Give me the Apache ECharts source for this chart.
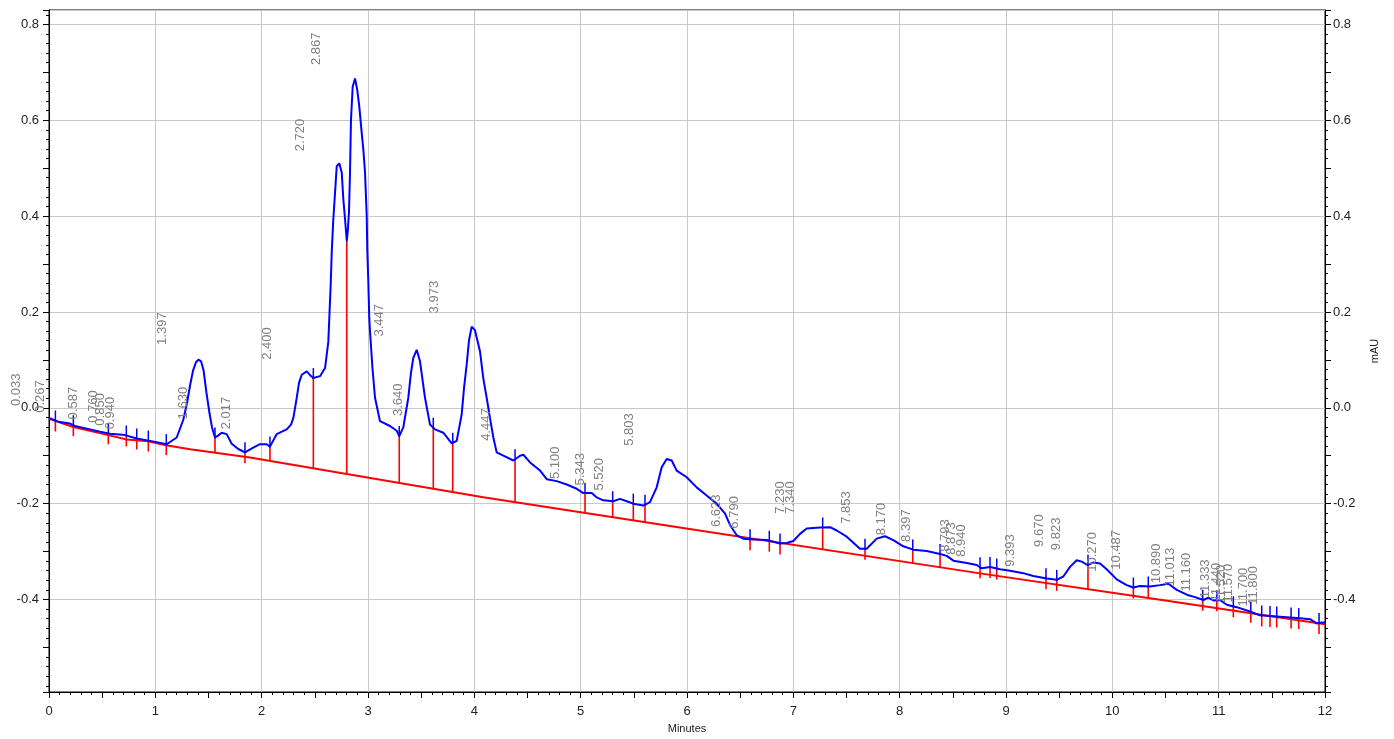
<!DOCTYPE html>
<html><head><meta charset="utf-8">
<script src="https://cdn.jsdelivr.net/npm/echarts@6/dist/echarts.min.js"></script>
<style>html,body{margin:0;padding:0;background:#fff}#c{width:1394px;height:739px}</style>
</head><body><div id="c"></div>
<script>
// ---- data ----
const traceTime = [0.000,0.087,0.197,0.245,0.386,0.480,0.574,0.715,0.825,0.950,
1.107,1.201,1.263,1.298,1.326,1.354,1.382,1.406,1.430,1.453,
1.481,1.510,1.533,1.561,1.589,1.624,1.671,1.718,1.780,1.843,
1.921,1.984,2.047,2.078,2.141,2.235,2.276,2.298,2.330,2.351,
2.377,2.424,2.455,2.486,2.549,2.596,2.627,2.636,2.649,2.659,
2.674,2.690,2.706,2.730,2.753,2.768,2.784,2.800,2.809,2.821,
2.831,2.840,2.856,2.878,2.899,2.918,2.941,2.956,2.972,2.988,
2.993,3.003,3.012,3.019,3.042,3.066,3.113,3.207,3.270,3.294,
3.332,3.379,3.404,3.426,3.458,3.489,3.513,3.536,3.583,3.630,
3.708,3.787,3.834,3.881,3.903,3.928,3.950,3.975,4.006,4.053,
4.084,4.116,4.147,4.179,4.210,4.273,4.367,4.430,4.461,4.524,
4.618,4.681,4.775,4.869,4.963,5.025,5.104,5.151,5.213,5.307,
5.370,5.433,5.495,5.589,5.652,5.715,5.762,5.809,5.856,5.903,
5.997,6.091,6.185,6.279,6.358,6.405,6.468,6.530,6.624,6.750,
6.875,6.938,7.000,7.063,7.126,7.251,7.345,7.408,7.502,7.627,
7.690,7.784,7.862,7.940,8.034,8.128,8.254,8.380,8.443,8.505,
8.631,8.725,8.772,8.850,8.944,9.038,9.163,9.257,9.383,9.477,
9.539,9.602,9.665,9.712,9.765,9.821,9.884,9.947,10.041,10.135,
10.198,10.260,10.354,10.448,10.527,10.606,10.700,10.778,10.856,10.903,
10.950,11.013,11.076,11.170,11.295,11.389,11.514,11.640,11.765,11.859,
11.922,11.969,12.000];
const traceSignal = [-0.021,-0.029,-0.033,-0.038,-0.045,-0.050,-0.054,-0.057,-0.064,-0.069,
-0.076,-0.062,-0.025,0.010,0.046,0.077,0.095,0.1005,0.097,0.079,
0.031,-0.012,-0.041,-0.062,-0.058,-0.052,-0.055,-0.075,-0.086,-0.093,
-0.083,-0.076,-0.076,-0.081,-0.055,-0.045,-0.035,-0.021,0.021,0.052,
0.069,0.076,0.068,0.062,0.066,0.083,0.138,0.187,0.256,0.325,
0.394,0.449,0.504,0.510,0.491,0.435,0.394,0.349,0.366,0.408,
0.491,0.601,0.670,0.687,0.663,0.629,0.573,0.539,0.491,0.401,
0.332,0.263,0.187,0.159,0.083,0.021,-0.028,-0.038,-0.048,-0.059,
-0.041,0.021,0.073,0.104,0.121,0.097,0.058,0.021,-0.035,-0.045,
-0.052,-0.074,-0.069,-0.014,0.041,0.090,0.141,0.169,0.162,0.118,
0.062,0.021,-0.021,-0.062,-0.093,-0.100,-0.110,-0.100,-0.098,-0.114,
-0.131,-0.149,-0.153,-0.160,-0.169,-0.178,-0.178,-0.187,-0.193,-0.195,
-0.190,-0.195,-0.200,-0.204,-0.197,-0.166,-0.124,-0.107,-0.110,-0.131,
-0.145,-0.166,-0.183,-0.200,-0.221,-0.245,-0.266,-0.273,-0.275,-0.276,
-0.283,-0.282,-0.278,-0.263,-0.252,-0.250,-0.249,-0.256,-0.269,-0.294,
-0.294,-0.273,-0.268,-0.276,-0.289,-0.296,-0.299,-0.305,-0.309,-0.319,
-0.324,-0.328,-0.335,-0.332,-0.337,-0.340,-0.345,-0.351,-0.356,-0.359,
-0.352,-0.332,-0.318,-0.321,-0.328,-0.323,-0.325,-0.337,-0.358,-0.370,
-0.375,-0.372,-0.373,-0.370,-0.367,-0.380,-0.390,-0.395,-0.401,-0.396,
-0.402,-0.401,-0.411,-0.416,-0.425,-0.433,-0.435,-0.437,-0.439,-0.441,
-0.450,-0.448,-0.448];

const baseTime   = [0, 0.229, 0.558, 0.731, 0.934, 1.10, 1.326, 1.89, 4.084, 5.84, 8.756, 10.355, 12];
const baseSignal = [-0.023, -0.040, -0.057, -0.066, -0.070, -0.078, -0.0865, -0.1036, -0.1865, -0.2466, -0.3455, -0.3973, -0.4518];

const eventTimes = [0.06, 0.229, 0.558, 0.727, 0.825, 0.934, 1.103, 1.561, 1.843, 2.078,
  2.486, 2.800, 3.294, 3.614, 3.797, 4.383, 5.041, 5.301, 5.495, 5.605,
  6.593, 6.774, 6.875, 7.276, 7.674, 8.123, 8.380, 8.756, 8.850, 8.913,
  9.376, 9.477, 9.771, 10.198, 10.338, 10.850, 10.982, 11.138, 11.302, 11.405,
  11.483, 11.546, 11.681, 11.753, 11.944];

const peakLabels = ['0.033','0.267','0.587','0.760','0.850','0.940','1.397','1.630','2.017','2.400',
  '2.720','2.867','3.447','3.640','3.973','4.447','5.100','5.343','5.520','5.803',
  '6.623','6.790','7.230','7.340','7.853','8.170','8.397','8.793','8.873','8.940',
  '9.393','9.670','9.823','10.270','10.487','10.890','11.013','11.160','11.333','11.440',
  '11.520','11.570','11.700','11.800'];
const labelTime = [-0.304,-0.078,0.229,0.417,0.480,0.574,1.066,1.263,1.671,2.053,
  2.367,2.518,3.106,3.285,3.621,4.116,4.759,4.994,5.173,5.458,
  6.279,6.442,6.875,6.969,7.502,7.831,8.060,8.427,8.490,8.584,
  9.038,9.314,9.470,9.816,10.035,10.411,10.549,10.700,10.872,10.982,
  11.029,11.091,11.232,11.326];
const labelLevel = [0.0035,-0.0104,-0.0242,-0.0311,-0.0373,-0.045,0.1312,-0.0242,-0.045,0.1001,
  0.5353,0.715,0.1486,-0.0172,0.1969,-0.069,-0.1486,-0.1623,-0.1726,-0.0794,
  -0.2487,-0.2522,-0.2211,-0.2211,-0.2419,-0.2659,-0.2798,-0.3005,-0.3067,-0.3109,
  -0.3316,-0.2902,-0.297,-0.342,-0.3378,-0.3662,-0.3731,-0.3834,-0.3973,-0.4041,
  -0.4083,-0.4062,-0.4145,-0.411];

const xTicks = { min: 0, max: 12 };
const yRange = { min: -0.593, max: 0.83 };

// ---- helpers ----
function interp(xs, ys, x) {
  if (x <= xs[0]) return ys[0];
  for (let i = 1; i < xs.length; i++) {
    if (x <= xs[i]) {
      const f = (x - xs[i - 1]) / (xs[i] - xs[i - 1]);
      return ys[i - 1] + f * (ys[i] - ys[i - 1]);
    }
  }
  return ys[ys.length - 1];
}
const zip = (a, b) => a.map((v, i) => [v, b[i]]);

const FONT = "'Liberation Sans', Arial, sans-serif";
const BLUE = '#0000ff', RED = '#ff0000';

function yAxisSet(pos) {
  return [
    { type: 'value', position: pos, min: yRange.min, max: yRange.max, splitNumber: 7,
      axisLine: { show: true, lineStyle: { color: '#000', width: 1 } },
      axisTick: { show: false },
      axisLabel: { show: true, margin: pos === 'left' ? 10 : 8, fontSize: 13, fontFamily: FONT, color: '#222',
        showMinLabel: false, showMaxLabel: false, formatter: v => v.toFixed(1) },
      splitLine: { show: pos === 'left', lineStyle: { color: '#c8c8c8', width: 1 } },
      name: pos === 'right' ? 'mAU' : '', nameLocation: 'middle', nameRotate: 90, nameGap: 44,
      nameTextStyle: { fontSize: 11, fontFamily: FONT, color: '#222' } },
    { type: 'value', position: pos, min: yRange.min, max: yRange.max, splitNumber: 14,
      axisLine: { show: false }, axisLabel: { show: false }, splitLine: { show: false },
      axisTick: { show: true, length: 6, lineStyle: { color: '#000' } } },
    { type: 'value', position: pos, min: yRange.min, max: yRange.max, splitNumber: 71,
      axisLine: { show: false }, axisLabel: { show: false }, splitLine: { show: false },
      axisTick: { show: true, length: 3, lineStyle: { color: '#000' } } }
  ];
}

const chart = echarts.init(document.getElementById('c'));
const eventData = eventTimes.map(t => [t, interp(traceTime, traceSignal, t), interp(baseTime, baseSignal, t)]);
const labelData = labelTime.map((t, i) => [t, labelLevel[i], i]);

chart.setOption({
  animation: false,
  backgroundColor: '#fff',
  grid: { left: 49, right: 69, top: 10, bottom: 42, show: true, borderColor: '#000', borderWidth: 1, backgroundColor: 'transparent' },
  xAxis: [
    { type: 'value', position: 'bottom', min: xTicks.min, max: xTicks.max, interval: 1,
      axisLine: { show: true, onZero: false, lineStyle: { color: '#000', width: 1 } },
      axisTick: { show: false },
      axisLabel: { margin: 13, fontSize: 13, fontFamily: FONT, color: '#222' },
      splitLine: { show: true, lineStyle: { color: '#c8c8c8', width: 1 } },
      name: 'Minutes', nameLocation: 'middle', nameGap: 31,
      nameTextStyle: { fontSize: 11, fontFamily: FONT, color: '#222' } },
    { type: 'value', position: 'bottom', min: xTicks.min, max: xTicks.max, interval: 0.5,
      axisLine: { show: false, onZero: false }, axisLabel: { show: false }, splitLine: { show: false },
      axisTick: { show: true, length: 6, lineStyle: { color: '#000' } } },
    { type: 'value', position: 'bottom', min: xTicks.min, max: xTicks.max, interval: 0.1,
      axisLine: { show: false, onZero: false }, axisLabel: { show: false }, splitLine: { show: false },
      axisTick: { show: true, length: 3, lineStyle: { color: '#000' } } }
  ],
  yAxis: [...yAxisSet('left'), ...yAxisSet('right')],
  series: [
    { type: 'line', name: 'baseline', data: zip(baseTime, baseSignal), showSymbol: false, symbol: 'none',
      lineStyle: { color: RED, width: 2 }, z: 2, silent: true },
    { type: 'custom', name: 'drops', data: eventData, z: 3, silent: true,
      renderItem: (params, api) => {
        const p = api.coord([api.value(0), api.value(1)]);
        const q = api.coord([api.value(0), api.value(2)]);
        const end = Math.max(q[1], p[1] + 11);
        return { type: 'line', shape: { x1: p[0], y1: p[1], x2: p[0], y2: end },
          style: { stroke: RED, lineWidth: 1.6 } };
      } },
    { type: 'line', name: 'signal', data: zip(traceTime, traceSignal), showSymbol: false, symbol: 'none',
      lineStyle: { color: BLUE, width: 2 }, z: 4, silent: true },
    { type: 'custom', name: 'ticks', data: eventData, z: 5, silent: true,
      renderItem: (params, api) => {
        const p = api.coord([api.value(0), api.value(1)]);
        return { type: 'line', shape: { x1: p[0], y1: p[1] - 10, x2: p[0], y2: p[1] + 1 },
          style: { stroke: BLUE, lineWidth: 1.5 } };
      } },
    { type: 'custom', name: 'labels', data: labelData, z: 6, silent: true, clip: false,
      renderItem: (params, api) => {
        const p = api.coord([api.value(0), api.value(1)]);
        return { type: 'text', x: p[0], y: p[1], rotation: Math.PI / 2,
          style: { text: peakLabels[api.value(2)], fill: '#808080', font: '13px ' + FONT,
            align: 'left', verticalAlign: 'middle' } };
      } }
  ]
});
</script>
</body></html>
